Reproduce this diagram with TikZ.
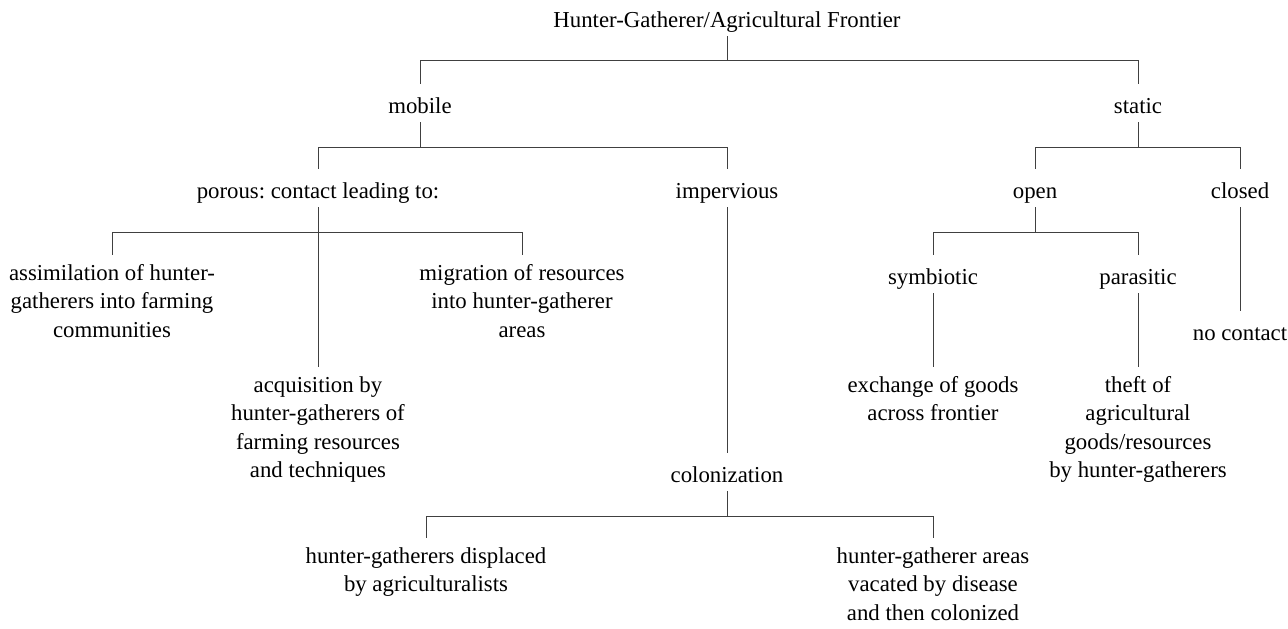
\documentclass[tikz,border=0pt]{standalone}
\usepackage{fontspec}
\setmainfont{Liberation Serif}
\usepackage{tikz}
\frenchspacing

\begin{document}
\begin{tikzpicture}[x=0.5pt, y=-0.5pt,
    voce/.style={anchor=north, inner sep=0pt, align=center,
        font=\fontsize{11.4pt}{14.25pt}\selectfont\frenchspacing, execute at begin node=\strut},
    ramo/.style={line width=0.5pt, black!75},
    giu/.style={ramo, shorten >=4.5pt}]

    \useasboundingbox (0,0) rectangle (1288,628);

    % Radice
    \node[voce] (root) at (727,7) {Hunter-Gatherer/Agricultural Frontier};

    % Primo livello
    \node[voce] (mobile) at (420,93) {mobile};
    \node[voce] (static) at (1138,93) {static};

    % Secondo livello
    \node[voce] (porous) at (318,178) {porous: contact leading to:};
    \node[voce] (imperv) at (727,178) {impervious};
    \node[voce] (open) at (1035,178) {open};
    \node[voce] (closed) at (1240,178) {closed};

    % Terzo livello
    \node[voce] (assim) at (112,264) {assimilation of hunter-\\gatherers into farming\\communities};
    \node[voce] (migr) at (522,264) {migration of resources\\into hunter-gatherer\\areas};
    \node[voce] (symb) at (933,264) {symbiotic};
    \node[voce] (paras) at (1138,264) {parasitic};
    \node[voce] (nocont) at (1240,320) {no contact};

    % Foglie
    \node[voce] (acq) at (318,376) {acquisition by\\hunter-gatherers of\\farming resources\\and techniques};
    \node[voce] (exch) at (933,376) {exchange of goods\\across frontier};
    \node[voce] (theft) at (1138,376) {theft of\\agricultural\\goods/resources\\by hunter-gatherers};
    \node[voce] (colon) at (727,462) {colonization};
    \node[voce] (displ) at (426,547) {hunter-gatherers displaced\\by agriculturalists};
    \node[voce] (vacat) at (933,547) {hunter-gatherer areas\\vacated by disease\\and then colonized};

    % Barre orizzontali
    \coordinate (b0) at (727,60);
    \coordinate (b1) at (420,147);
    \coordinate (b2) at (1138,147);
    \coordinate (b3) at (318,232);
    \coordinate (b4) at (1035,232);
    \coordinate (b5) at (727,516);

    % Rami
    \draw[ramo] (root.south) -- (b0);
    \draw[giu] (b0) -| (mobile.north);
    \draw[giu] (b0) -| (static.north);

    \draw[ramo] (mobile.south) -- (b1);
    \draw[giu] (b1) -| (porous.north);
    \draw[giu] (b1) -| (imperv.north);

    \draw[ramo] (static.south) -- (b2);
    \draw[giu] (b2) -| (open.north);
    \draw[giu] (b2) -| (closed.north);

    \draw[giu] (porous.south) -- (acq.north);
    \draw[giu] (b3) -| (assim.north);
    \draw[giu] (b3) -| (migr.north);

    \draw[giu] (imperv.south) -- (colon.north);

    \draw[ramo] (open.south) -- (b4);
    \draw[giu] (b4) -| (symb.north);
    \draw[giu] (b4) -| (paras.north);

    \draw[giu] (closed.south) -- (nocont.north);
    \draw[giu] (symb.south) -- (exch.north);
    \draw[giu] (paras.south) -- (theft.north);

    \draw[ramo] (colon.south) -- (b5);
    \draw[giu] (b5) -| (displ.north);
    \draw[giu] (b5) -| (vacat.north);
\end{tikzpicture}
\end{document}
